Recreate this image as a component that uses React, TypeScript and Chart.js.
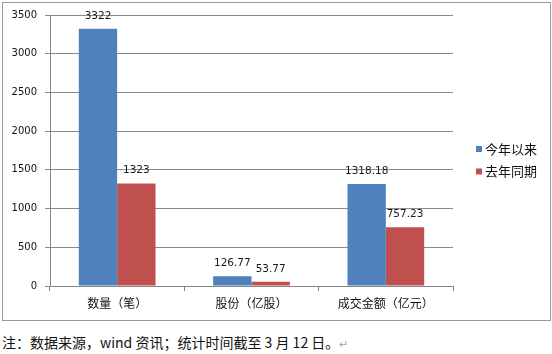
import React, { useEffect, useRef } from "react";
import { Chart, registerables } from "chart.js";

Chart.register(...registerables);

const categories = ["数量（笔）", "股份（亿股）", "成交金额（亿元）"];
const seriesNames = ["今年以来", "去年同期"];
const thisYear = [3322, 126.77, 1318.18];
const lastYear = [1323, 53.77, 757.23];
const thisYearLabels = ["3322", "126.77", "1318.18"];
const lastYearLabels = ["1323", "53.77", "757.23"];
const colors = ["#4F81BD", "#C0504D"];
const footnote = "注：数据来源，wind 资讯；统计时间截至 3 月 12 日。";

const CJK = '"Noto Sans CJK SC", "Noto Sans", sans-serif';
const NUM = '"DejaVu Sans", Verdana, sans-serif';

export default function App() {
  const ref = useRef<HTMLCanvasElement | null>(null);

  useEffect(() => {
    if (!ref.current) return;
    const labelSets = [thisYearLabels, lastYearLabels];

    const dataLabels = {
      id: "dataLabels",
      afterDatasetsDraw(chart: any) {
        const ctx = chart.ctx;
        ctx.save();
        ctx.font = `10.5px ${NUM}`;
        ctx.fillStyle = "#1a1a1a";
        ctx.textAlign = "center";
        ctx.textBaseline = "middle";
        chart.data.datasets.forEach((ds: any, di: number) => {
          const meta = chart.getDatasetMeta(di);
          meta.data.forEach((bar: any, i: number) => {
            ctx.fillText(labelSets[di][i], bar.x, bar.y - 13);
          });
        });
        ctx.restore();
      },
    };

    const customLegend = {
      id: "customLegend",
      afterDraw(chart: any) {
        const ctx = chart.ctx;
        ctx.save();
        ctx.font = `13px ${CJK}`;
        ctx.textBaseline = "middle";
        ctx.textAlign = "left";
        const x = chart.chartArea.right + 23;
        const ys = [149, 171.5];
        chart.data.datasets.forEach((ds: any, i: number) => {
          ctx.fillStyle = ds.backgroundColor;
          ctx.fillRect(x, ys[i] - 3, 6, 6);
          ctx.fillStyle = "#111";
          ctx.fillText(ds.label, x + 9, ys[i]);
        });
        ctx.restore();
      },
    };

    const chart = new Chart(ref.current, {
      type: "bar",
      data: {
        labels: categories,
        datasets: [
          {
            label: seriesNames[0],
            data: thisYear,
            backgroundColor: colors[0],
            categoryPercentage: 0.571,
            barPercentage: 1,
          },
          {
            label: seriesNames[1],
            data: lastYear,
            backgroundColor: colors[1],
            categoryPercentage: 0.571,
            barPercentage: 1,
          },
        ],
      },
      options: {
        responsive: false,
        animation: false,
        layout: { padding: { left: 0, top: 15, right: 99, bottom: 0 } },
        plugins: {
          legend: { display: false },
          tooltip: { enabled: false },
        },
        scales: {
          x: {
            afterFit: (scale: any) => {
              scale.height = 36;
            },
            grid: {
              drawOnChartArea: false,
              drawTicks: true,
              tickLength: 5,
              color: "#868686",
            },
            border: { display: true, color: "#868686" },
            ticks: {
              color: "#111",
              font: { family: CJK, size: 12 },
              padding: 5,
              maxRotation: 0,
            },
          },
          y: {
            min: 0,
            max: 3500,
            afterFit: (scale: any) => {
              scale.width = 50;
            },
            ticks: {
              stepSize: 500,
              color: "#111",
              font: { family: NUM, size: 10 },
              padding: 8,
              callback: (v: any) => String(v),
            },
            grid: {
              color: "#8a8a8a",
              tickLength: 5,
              drawTicks: true,
            },
            border: { display: true, color: "#868686" },
          },
        },
      },
      plugins: [dataLabels, customLegend],
    });
    return () => chart.destroy();
  }, []);

  return (
    <div style={{ position: "absolute", left: 0, top: 0, width: 552, height: 354, background: "#fff" }}>
      <canvas ref={ref} width={552} height={322} style={{ position: "absolute", left: 0, top: 0, width: 552, height: 322 }} />
      <div
        style={{
          position: "absolute",
          left: 2,
          top: 2,
          width: 547,
          height: 317,
          border: "1px solid #9a9a9a",
          pointerEvents: "none",
        }}
      />
      <div
        style={{
          position: "absolute",
          left: 2,
          top: 333,
          fontFamily: CJK,
          fontSize: 14,
          lineHeight: "18px",
          color: "#111",
          whiteSpace: "nowrap",
        }}
      >
        {footnote}
        <span style={{ color: "#aaa", fontSize: 11 }}>↵</span>
      </div>
    </div>
  );
}
